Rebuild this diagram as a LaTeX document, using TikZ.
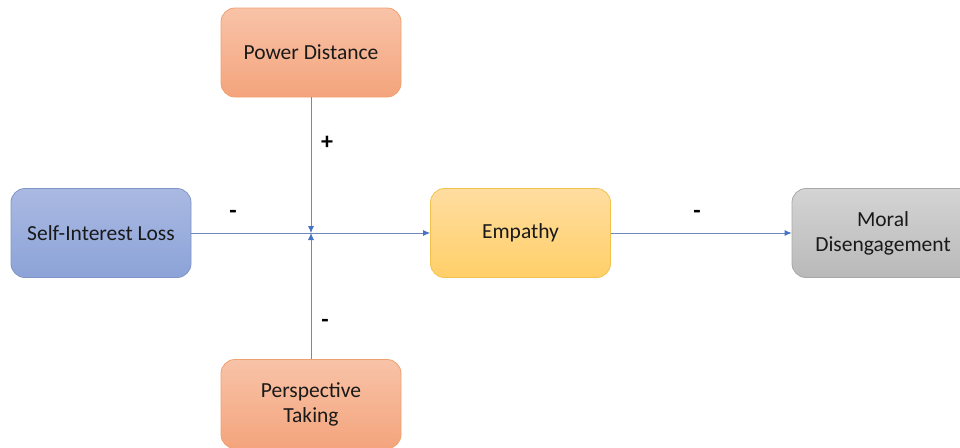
\documentclass[tikz,border=0pt]{standalone}
\usepackage{fontspec}
\setmainfont{Carlito}
\usetikzlibrary{arrows.meta}
\definecolor{linec}{HTML}{6F88BC}
\definecolor{tipc}{HTML}{4472C4}
\definecolor{bluetop}{HTML}{AAB9E2}
\definecolor{bluebot}{HTML}{8CA3D8}
\definecolor{blueline}{HTML}{7F95C8}
\definecolor{ortop}{HTML}{F8C3A8}
\definecolor{orbot}{HTML}{F4A47C}
\definecolor{orline}{HTML}{F0A070}
\definecolor{yetop}{HTML}{FFDDA0}
\definecolor{yebot}{HTML}{FFCF68}
\definecolor{yeline}{HTML}{F2C24E}
\definecolor{grtop}{HTML}{D4D4D4}
\definecolor{grbot}{HTML}{B9B9B9}
\definecolor{grline}{HTML}{A8A8A8}
\tikzset{
  box/.style={rounded corners=14pt, minimum width=180pt, minimum height=89pt,
    align=center, font=\fontsize{21.5}{25}\selectfont, text=black!90, line width=0.8pt},
  bluebox/.style={box, draw=blueline, top color=bluetop, bottom color=bluebot},
  orangebox/.style={box, draw=orline, top color=ortop, bottom color=orbot},
  yellowbox/.style={box, draw=yeline, top color=yetop, bottom color=yebot},
  graybox/.style={box, draw=grline, top color=grtop, bottom color=grbot},
  conn/.style={draw=linec, line width=0.8pt, -{Latex[length=7pt,width=6pt,color=tipc]}},
  sign/.style={font=\fontsize{24}{26}\bfseries\selectfont}
}
\begin{document}
\begin{tikzpicture}[x=1pt,y=-1pt]
\useasboundingbox (0,0) rectangle (960,447);
\node[bluebox] (sil) at (101,233) {Self-Interest Loss};
\node[orangebox] (pd) at (311,52.5) {Power Distance};
\node[orangebox] (pt) at (311,404) {Perspective\\Taking};
\node[yellowbox] (emp) at (520.5,233) {Empathy};
\node[graybox, minimum width=182pt] (md) at (883,233) {Moral\\Disengagement};
\coordinate (j) at (311,233);
\draw[conn] (sil.east) -- (emp.west);
\draw[conn] (pd.south) -- (j);
\draw[conn] (pt.north) -- (j);
\draw[conn] (emp.east) -- (md.west);
\node[sign] (s1) at (233,214) {-};
\node[sign] (s2) at (327,143) {+};
\node[sign] (s3) at (325,323) {-};
\node[sign] (s4) at (697,214) {-};
\end{tikzpicture}
\end{document}
